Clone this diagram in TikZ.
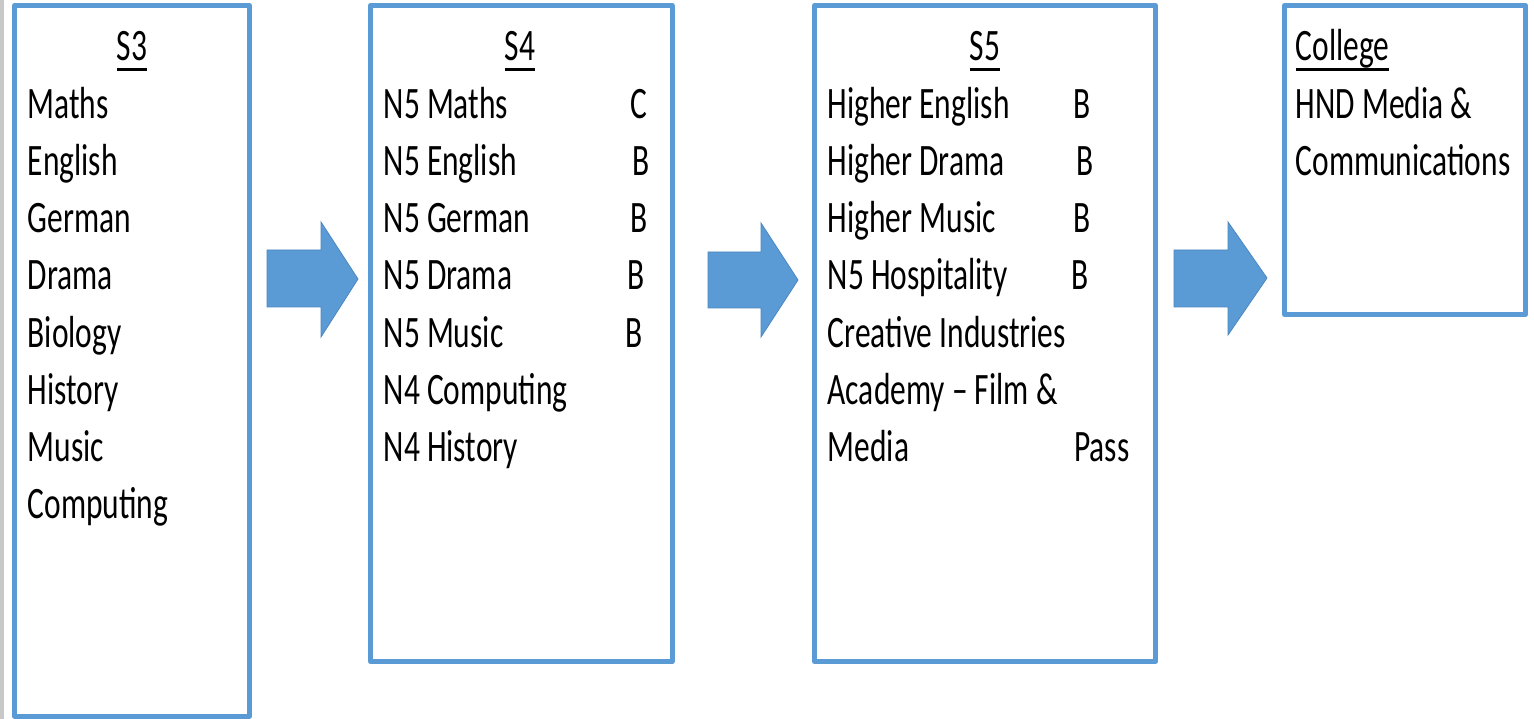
\documentclass[tikz,border=0pt]{standalone}
\usepackage{fontspec}
\usepackage{graphicx}
\setmainfont{Carlito}
\definecolor{boxblue}{HTML}{5B9BD5}
\definecolor{arrowedge}{HTML}{4A86C0}
\definecolor{stripgray}{HTML}{C8C8C8}
\newcommand{\st}[1]{\scalebox{1.015}[1.45]{#1}}
\newcommand{\ulx}[1]{\setbox0=\hbox{\st{#1}}\rlap{\rule[-10pt]{\wd0}{2.8pt}}\box0}
\begin{document}
\begin{tikzpicture}[x=1pt,y=-1pt,
  txt/.style={anchor=base west, inner sep=0pt, font=\fontsize{31}{37}\selectfont},
  ttl/.style={anchor=base, inner sep=0pt, font=\fontsize{31}{37}\selectfont},
  panel/.style={draw=boxblue, line width=5pt, line join=round, inner sep=0pt, outer sep=0pt},
  bigarrow/.style={fill=boxblue, draw=arrowedge, line width=0.8pt, line join=miter}]
\useasboundingbox (0,0) rectangle (1534,719);
\fill[stripgray] (0,0) rectangle (4,719);

% panels
\node[panel, minimum width=235pt, minimum height=710.5pt] (s3) at (132,360.75) {};
\node[panel, minimum width=301.5pt, minimum height=656pt] (s4) at (521.25,333.5) {};
\node[panel, minimum width=341pt, minimum height=656pt] (s5) at (985,333.5) {};
\node[panel, minimum width=241pt, minimum height=309pt] (col) at (1405,160) {};

% arrows
\draw[bigarrow] (267,250) -- (321,250) -- (321,222) -- (358,279) -- (321,337) -- (321,307) -- (267,307) -- cycle;
\draw[bigarrow] (708,252) -- (761,252) -- (761,223) -- (798,280) -- (761,337) -- (761,308) -- (708,308) -- cycle;
\draw[bigarrow] (1174,250) -- (1228,250) -- (1228,222) -- (1267,278) -- (1228,335) -- (1228,307) -- (1174,307) -- cycle;

% S3
\node[ttl] (t3) at (132,61) {\ulx{S3}};
\node[txt] (a1) at (27.5,119) {\st{Maths}};
\node[txt] (a2) at (27.5,176) {\st{English}};
\node[txt] (a3) at (27.5,233) {\st{German}};
\node[txt] (a4) at (27.5,290) {\st{Drama}};
\node[txt] (a5) at (27.5,347) {\st{Biology}};
\node[txt] (a6) at (27.5,404) {\st{History}};
\node[txt] (a7) at (27.5,461) {\st{Music}};
\node[txt] (a8) at (27.5,518) {\st{Computing}};

% S4
\node[ttl] (t4) at (520,61) {\ulx{S4}};
\node[txt] (b1) at (383.5,119) {\st{N5 Maths}};
\node[txt] (b2) at (383.5,176) {\st{N5 English}};
\node[txt] (b3) at (383.5,233) {\st{N5 German}};
\node[txt] (b4) at (383.5,290) {\st{N5 Drama}};
\node[txt] (b5) at (383.5,347) {\st{N5 Music}};
\node[txt] (b6) at (383.5,404) {\st{N4 Computing}};
\node[txt] (b7) at (383.5,461) {\st{N4 History}};
\node[txt] (g1) at (630,119) {\st{C}};
\node[txt] (g2) at (632,176) {\st{B}};
\node[txt] (g3) at (630,233) {\st{B}};
\node[txt] (g4) at (627,290) {\st{B}};
\node[txt] (g5) at (625,347) {\st{B}};

% S5
\node[ttl] (t5) at (985,61) {\ulx{S5}};
\node[txt] (c1) at (827.5,119) {\st{Higher English}};
\node[txt] (c2) at (827.5,176) {\st{Higher Drama}};
\node[txt] (c3) at (827.5,233) {\st{Higher Music}};
\node[txt] (c4) at (827.5,290) {\st{N5 Hospitality}};
\node[txt] (c5) at (827.5,347) {\st{Creative Industries}};
\node[txt] (c6) at (827.5,404) {\st{Academy – Film \&}};
\node[txt] (c7) at (827.5,461) {\st{Media}};
\node[txt] (h1) at (1073,119) {\st{B}};
\node[txt] (h2) at (1076,176) {\st{B}};
\node[txt] (h3) at (1073,233) {\st{B}};
\node[txt] (h4) at (1071,290) {\st{B}};
\node[txt] (h5) at (1074,461) {\st{Pass}};

% College
\node[txt] (tc) at (1295.5,61) {\ulx{College}};
\node[txt] (d1) at (1295.5,119) {\st{HND Media \&}};
\node[txt] (d2) at (1295.5,176) {\st{Communications}};
\end{tikzpicture}
\end{document}
